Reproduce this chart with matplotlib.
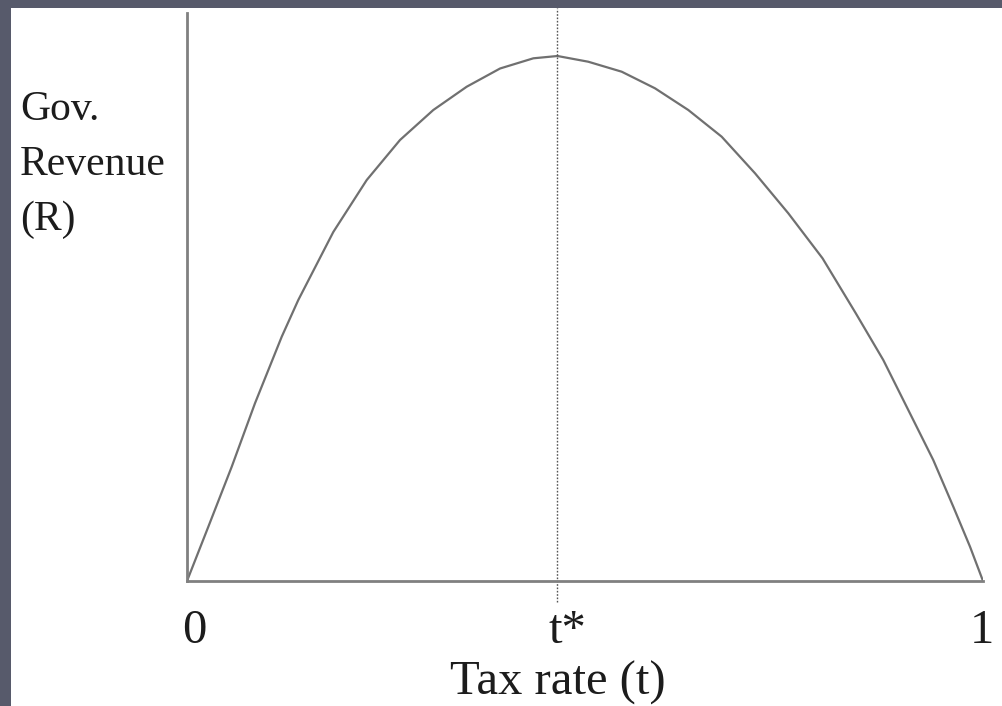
import matplotlib
matplotlib.use("Agg")
import matplotlib.pyplot as plt
from matplotlib.patches import Rectangle

# Laffer curve (t normalised 0..1, R normalised to peak)
tax_rate = [0.0, 0.0268, 0.0562, 0.0854, 0.1190, 0.1398, 0.1838, 0.2258,
            0.2676, 0.3094, 0.3514, 0.3933, 0.4351, 0.4654, 0.5041, 0.5461,
            0.5879, 0.6298, 0.6717, 0.7136, 0.7554, 0.7984, 0.8402, 0.8747,
            0.9124, 0.9375, 0.9627, 0.9837, 1.0]
revenue = [0.0, 0.1034, 0.2177, 0.3385, 0.4653, 0.5352, 0.6648, 0.7638,
           0.8400, 0.8971, 0.9415, 0.9762, 0.9956, 1.0, 0.9891, 0.9701,
           0.9385, 0.8971, 0.8463, 0.7766, 0.7004, 0.6147, 0.5099, 0.4210,
           0.3067, 0.2305, 0.1415, 0.0653, 0.0]
t_star = 0.4654
tick_pos = [0.0, t_star, 1.0]
tick_labels = ["0", "t*", "1"]

W, H = 1003, 706
fig = plt.figure(figsize=(W / 100, H / 100), dpi=100, facecolor="#575a6b")
# white page inside the dark frame
fig.patches.append(Rectangle((11 / W, 0), 1 - 11 / W, (H - 8) / H,
                             transform=fig.transFigure, facecolor="white",
                             edgecolor="none", zorder=-10))

ax = fig.add_axes([187 / W, (H - 581) / H, 796 / W, (581 - 13) / H])
ax.set_facecolor("none")
ax.set_xlim(0, 1)
ax.set_ylim(0, (581 - 13) / 525)

line_col = "#707070"
ax.plot(tax_rate, revenue, color=line_col, lw=1.6, solid_joinstyle="round")
ax.plot([t_star, t_star], [-21 / 525, 573 / 525], color="#555555", lw=1.0,
        linestyle=(0, (1.2, 1.2)), clip_on=False)

for side in ("top", "right"):
    ax.spines[side].set_visible(False)
for side in ("left", "bottom"):
    ax.spines[side].set_color("#808080")
    ax.spines[side].set_linewidth(2.0)
ax.set_xticks([])
ax.set_yticks([])

serif = ["Liberation Serif", "DejaVu Serif"]
txt_col = "#1c1c1c"
offsets = [0.009, 0.012, -0.002]
for p, lab, off in zip(tick_pos, tick_labels, offsets):
    ax.text(p + off, -0.095, lab, ha="center", va="center",
            fontsize=35, family=serif, color=txt_col)
ax.text(t_star, -0.194, "Tax rate (t)", ha="center", va="center",
        fontsize=35, family=serif, color=txt_col)

for y, s in zip([110, 165, 220], ["Gov.", "Revenue", "(R)"]):
    fig.text(20 / W, 1 - y / H, s, ha="left", va="center",
             fontsize=30, family=serif, color=txt_col)

fig.savefig("out.png", dpi=100, facecolor=fig.get_facecolor())
